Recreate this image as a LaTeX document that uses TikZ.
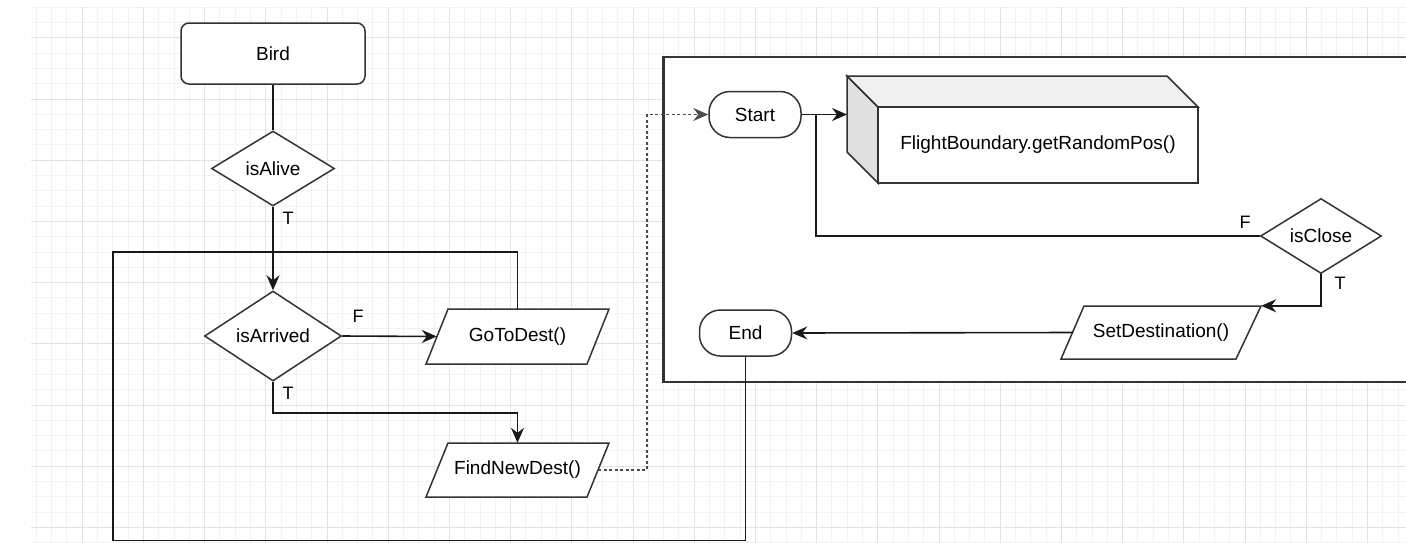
\documentclass[tikz,border=0pt]{standalone}
\usepackage{fontspec}
\setmainfont{Liberation Sans}
\usetikzlibrary{shapes.geometric,arrows.meta,calc}
\begin{document}
\begin{tikzpicture}[x=1pt,y=-1pt,
  every node/.style={font=\fontsize{19}{22}\selectfont, text=black, inner sep=0pt},
  shp/.style={draw=black!80, line width=1.5pt, fill=white},
  edge/.style={draw=black!90, line width=1.6pt},
  arr/.style={edge, -{Stealth[length=15pt,width=13pt,inset=5pt]}},
  dashedge/.style={arr, draw=black!70, line width=1.8pt, dash pattern=on 3pt off 2.5pt},
  lbl/.style={font=\fontsize{18}{20}\selectfont},
  dia/.style={shp, diamond, aspect=1.6},
  term/.style={shp, rectangle, rounded corners=21pt},
  txt/.style={draw=none, fill=none},
  minorgrid/.style={draw=black!5, line width=1pt},
  majorgrid/.style={draw=black!11, line width=1pt},
]
\useasboundingbox (0,0) rectangle (1406,542);
\fill[white] (0,0) rectangle (1406,542);
\clip (0,0) rectangle (1406,542);

% background grid
\begin{scope}
  \clip (31,7) rectangle (1406,542);
  \foreach \i in {0,...,92} \draw[minorgrid] ({21+15.3*\i},0) -- ++(0,560);
  \foreach \i in {0,...,37} \draw[minorgrid] (0,{-8.1+15.3*\i}) -- ++(1420,0);
  \foreach \i in {0,...,23} \draw[majorgrid] ({21+61.2*\i},0) -- ++(0,560);
  \foreach \i in {0,...,10} \draw[majorgrid] (0,{-23.4+61.2*\i}) -- ++(1420,0);
\end{scope}

% container frame (cut off at the right edge)
\draw[line width=2.2pt, draw=black!80, fill=white] (663.5,57) rectangle (1440,382);

% parallelogram outlines
\path[shp] (448,309) -- (609,309) -- (587,364) -- (426,364) -- cycle;
\path[shp] (448,443) -- (609,443) -- (587,497) -- (426,497) -- cycle;
\path[shp] (1084,306) -- (1261,306) -- (1236,359) -- (1061,359) -- cycle;

% cube side faces
\path[shp, fill=black!12] (847,76) -- (878,107) -- (878,183) -- (847,152) -- cycle;
\path[shp, fill=black!6] (847,76) -- (1167,76) -- (1198,107) -- (878,107) -- cycle;

% nodes
\node[shp, rectangle, rounded corners=8pt, minimum width=184, minimum height=61] (bird) at (273,53.5) {Bird};
\node[dia, minimum width=123, minimum height=75] (alive) at (273,168.5) {isAlive};
\node[dia, minimum width=137, minimum height=90] (arrived) at (273,336) {isArrived};
\node[txt, minimum width=183, minimum height=55] (go) at (517.5,336.5) {GoToDest()};
\node[txt, minimum width=183, minimum height=54] (find) at (517.5,470) {FindNewDest()};
\node[term, minimum width=92, minimum height=46] (start) at (755,114.5) {Start};
\node[term, minimum width=92, minimum height=46] (end) at (745.5,333) {End};
\node[shp, rectangle, minimum width=320, minimum height=76] (fb) at (1038,145) {FlightBoundary.getRandomPos()};
\node[dia, minimum width=121, minimum height=75] (close) at (1321,236) {isClose};
\node[txt, minimum width=200, minimum height=53] (sd) at (1161,332.5) {SetDestination()};

% labels
\node[lbl] (t1) at (288,218.5) {T};
\node[lbl] (f1) at (358,316) {F};
\node[lbl] (t2) at (288,393) {T};
\node[lbl] (f2) at (1245,222) {F};
\node[lbl] (t3) at (1340,283) {T};

% helper coordinates
\coordinate (j1) at (273,252);
\coordinate (j2) at (816,114.5);
\coordinate (cubein) at (847,114.5);
\coordinate (d1) at (647,114.5);
\coordinate (bl) at (113,540.5);

% connectors
\draw[edge] (bird.south) -- (alive.north);
\draw[arr] (alive.south) -- (arrived.north);
\draw[arr] (arrived.east) -- ([xshift=11pt]go.west);
\draw[edge] (go.north) |- (j1);
\draw[arr] (arrived.south) -- ++(0,31) -| (find.north);
\draw[dashedge] ([xshift=-11pt]find.east) -| (d1) -- (start.west);
\draw[arr] (start.east) -- (cubein);
\draw[edge] (close.west) -| (j2);
\draw[arr] (close.south) |- (sd.north east);
\draw[arr] ([xshift=12pt]sd.west) -- (end.east);
\draw[edge] (end.south) |- (bl) |- (j1);
\end{tikzpicture}
\end{document}
